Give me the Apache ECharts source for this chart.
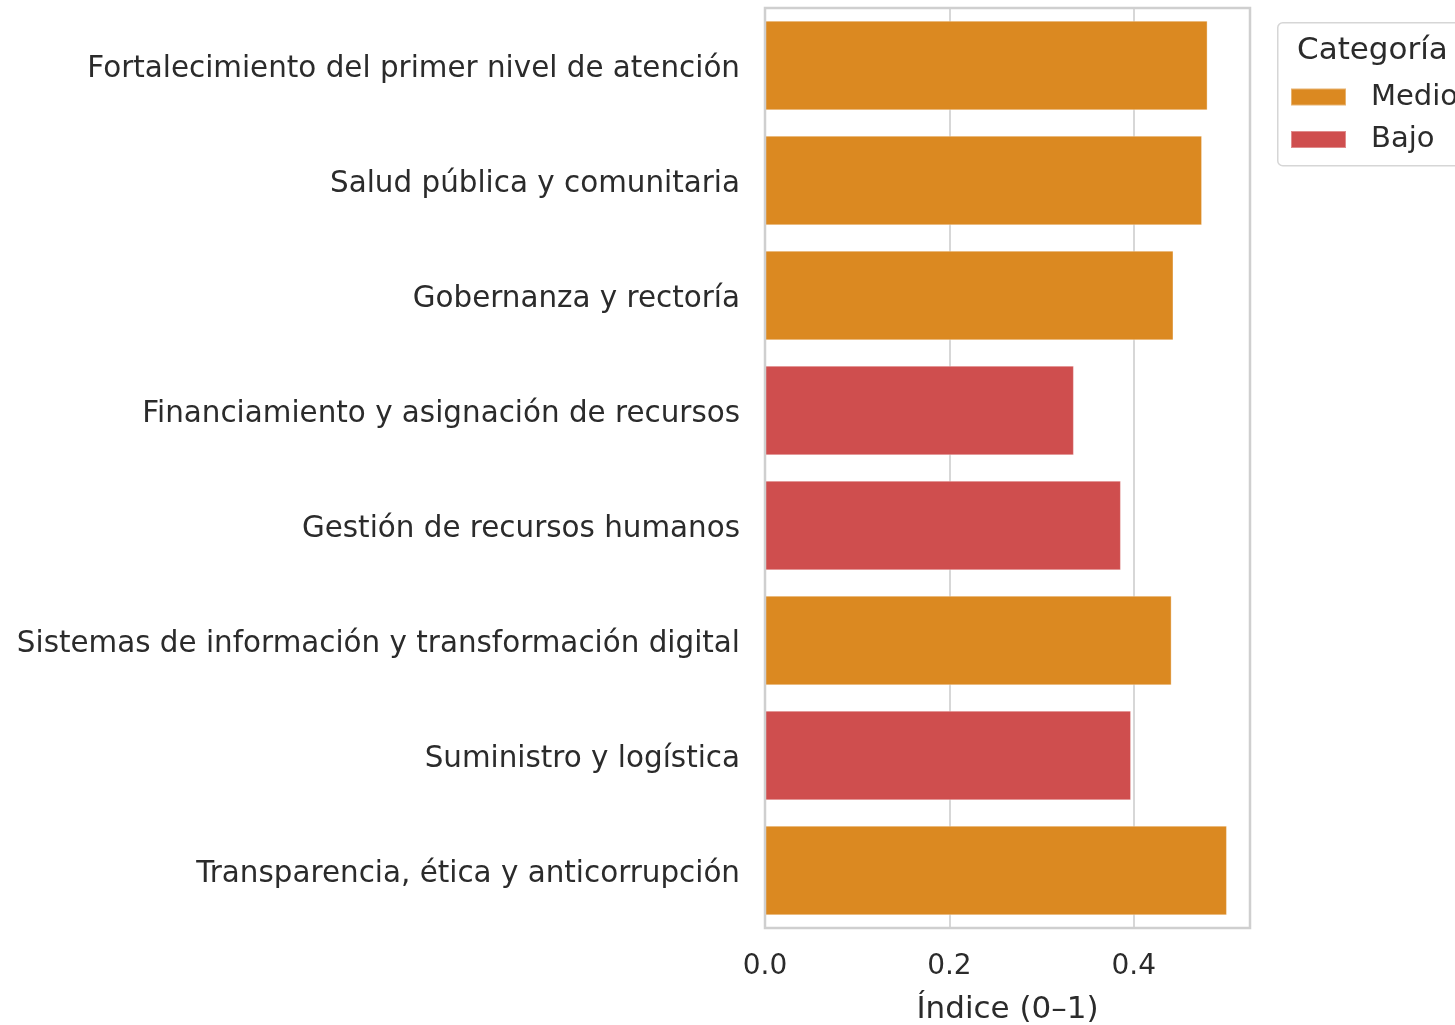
<!DOCTYPE html>
<html>
<head>
<meta charset="utf-8">
<script src="https://cdn.jsdelivr.net/npm/echarts@6/dist/echarts.min.js"></script>
<style>html,body{margin:0;padding:0;background:#fff;}#c{width:1455px;height:1025px;}</style>
</head>
<body>
<div id="c"></div>
<script>
const categories = [
  "Fortalecimiento del primer nivel de atención",
  "Salud pública y comunitaria",
  "Gobernanza y rectoría",
  "Financiamiento y asignación de recursos",
  "Gestión de recursos humanos",
  "Sistemas de información y transformación digital",
  "Suministro y logística",
  "Transparencia, ética y anticorrupción"
];
const values = [0.480, 0.474, 0.443, 0.335, 0.386, 0.441, 0.397, 0.501];
const levels = ["Medio", "Medio", "Medio", "Bajo", "Bajo", "Medio", "Bajo", "Medio"];
const levelNames = ["Medio", "Bajo"];
const levelColors = {"Medio": "#db8921", "Bajo": "#cf4e4e"};
const xTicks = [0, 0.2, 0.4];
const xMax = 0.526;

const FONT = "DejaVu Sans";
const TXT = "#2b2b2b";

const chart = echarts.init(document.getElementById('c'));
const series = levelNames.map(function (lv) {
  return {
    name: lv,
    type: 'bar',
    barGap: '-100%',
    barCategoryGap: '22%',
    itemStyle: {color: levelColors[lv], borderColor: 'rgba(255,255,255,0.35)', borderWidth: 1},
    data: values.map(function (v, i) { return levels[i] === lv ? v : null; }),
    z: 3
  };
});

chart.setOption({
  animation: false,
  backgroundColor: '#ffffff',
  grid: {left: 765, top: 8, width: 485, height: 920, show: true, borderColor: '#cfcfcf', borderWidth: 2.5, backgroundColor: 'transparent', z: 4, containLabel: false, outerBoundsMode: 'none'},
  xAxis: {
    type: 'value', min: 0, max: xMax, interval: 0.2,
    name: 'Índice (0–1)', nameLocation: 'middle', nameGap: 66,
    nameTextStyle: {fontFamily: FONT, fontSize: 31, color: TXT},
    axisLine: {show: false}, axisTick: {show: false},
    axisLabel: {fontFamily: FONT, fontSize: 28, color: TXT, margin: 25, showMaxLabel: false,
      formatter: function (v) { return xTicks.indexOf(Math.round(v * 10) / 10) >= 0 ? v.toFixed(1) : ''; }},
    splitLine: {show: true, lineStyle: {color: '#d3d3d3', width: 1.8}}
  },
  yAxis: {
    type: 'category', data: categories, inverse: true,
    axisLine: {show: false}, axisTick: {show: false},
    axisLabel: {fontFamily: FONT, fontSize: 29.4, color: TXT, margin: 25,
      formatter: function (v) { return '{a|' + v + '}'; },
      rich: {a: {fontFamily: FONT, fontSize: 29.4, color: TXT, padding: [8, 0, 0, 0]}}},
    splitLine: {show: false}
  },
  legend: {
    data: levelNames, orient: 'vertical', left: 1290, top: 82, padding: 0,
    icon: 'rect', itemWidth: 55, itemHeight: 17, itemGap: 12.5,
    textStyle: {fontFamily: FONT, fontSize: 29, color: TXT, lineHeight: 30, padding: [0, 0, 0, 20]}
  },
  graphic: [
    {type: 'rect', left: 1277, top: 22, shape: {width: 220, height: 143, r: 5}, style: {fill: '#ffffff', stroke: '#d6d6d6', lineWidth: 1.5}, z: 0},
    {type: 'text', left: 1297, top: 35, style: {text: 'Categoría', fontFamily: FONT, fontSize: 31, fill: TXT}, z: 1}
  ],
  series: series
});
</script>
</body>
</html>
